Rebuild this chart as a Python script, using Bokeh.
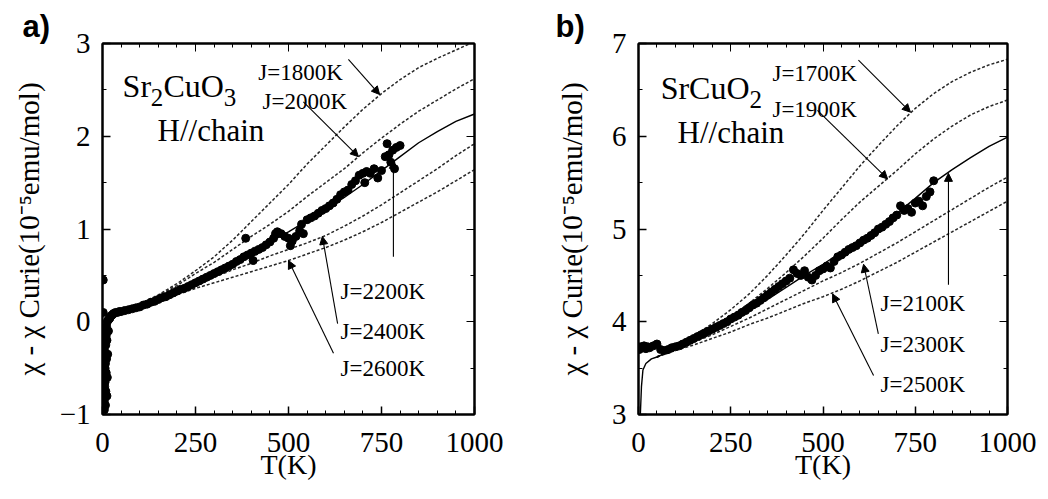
from bokeh.plotting import figure
from bokeh.layouts import row
from bokeh.models import (Range1d, LinearAxis, Arrow, NormalHead, Label,
                          CustomJSTickFormatter, FixedTicker)
from bokeh.embed import file_html
from bokeh.resources import INLINE

# ---------------- data ----------------
T_CURVE = [50, 100, 150, 200, 250, 300, 350, 400, 450, 500,
           550, 600, 650, 700, 750, 800, 850, 900, 950, 1000]

# panel a) Sr2CuO3
A_J1800 = [0.10, 0.19, 0.29, 0.41, 0.55, 0.70, 0.88, 1.08, 1.28, 1.48,
           1.70, 1.90, 2.10, 2.29, 2.46, 2.61, 2.74, 2.84, 2.93, 3.02]
A_J2000 = [0.10, 0.18, 0.28, 0.39, 0.52, 0.64, 0.78, 0.92, 1.05, 1.19,
           1.35, 1.50, 1.65, 1.82, 1.98, 2.13, 2.27, 2.39, 2.51, 2.62]
A_J2200 = [0.10, 0.17, 0.26, 0.35, 0.45, 0.55, 0.65, 0.75, 0.86, 0.97,
           1.09, 1.21, 1.34, 1.48, 1.63, 1.78, 1.93, 2.05, 2.16, 2.24]
A_J2400 = [0.10, 0.17, 0.24, 0.32, 0.40, 0.48, 0.56, 0.63, 0.71, 0.78,
           0.85, 0.93, 1.03, 1.14, 1.26, 1.39, 1.52, 1.65, 1.79, 1.92]
A_J2600 = [0.10, 0.16, 0.22, 0.29, 0.36, 0.42, 0.48, 0.54, 0.60, 0.66,
           0.73, 0.80, 0.88, 0.97, 1.07, 1.18, 1.29, 1.40, 1.52, 1.64]

A_DATA_T = [2, 2, 4, 4, 5, 5, 5, 6, 6, 6, 7, 7, 7, 8, 8, 8, 9, 9, 10, 10,
            11, 11, 12, 12, 13, 13, 14, 15, 16, 18, 20, 22, 25, 28, 30, 35,
            40, 45, 50, 60, 70, 80, 90, 100, 110, 120, 130, 140, 150, 160,
            170, 180, 190, 200, 210, 220, 230, 240, 250, 260, 270, 280, 290, 300,
            310, 320, 330, 340, 350, 360, 370, 380, 385, 390, 400, 405, 410, 420,
            430, 440, 450, 460, 465, 470, 480, 490, 500, 505, 510, 520, 530, 535,
            540, 550, 560, 570, 580, 590, 600, 610, 620, 630, 640, 650, 660, 670,
            680, 690, 700, 705, 710, 720, 730, 740, 750, 760, 765, 770, 775, 780,
            785, 790, 800]
A_DATA_Y = [0.45, 0.10, -0.93, -0.60, -0.95, -0.85, -0.30, -0.80, -0.70, -0.20,
            -0.65, -0.50, -0.10, -0.45, -0.35, -0.90, -0.25, -0.75, -0.15, -0.55,
            -0.05, -0.40, -0.80, -0.20, -0.60, 0.00, -0.35, 0.02, -0.10, 0.03,
            0.04, 0.06, 0.07, 0.08, 0.09, 0.10, 0.10, 0.11, 0.11, 0.12, 0.13,
            0.14, 0.15, 0.16, 0.18, 0.19, 0.21, 0.22, 0.24, 0.26, 0.27, 0.29,
            0.31, 0.33, 0.35, 0.36, 0.38, 0.40, 0.42, 0.44, 0.46, 0.48, 0.50,
            0.52, 0.54, 0.56, 0.58, 0.60, 0.62, 0.65, 0.67, 0.70, 0.90, 0.72,
            0.74, 0.66, 0.76, 0.78, 0.80, 0.83, 0.86, 0.90, 0.95, 0.97, 0.95,
            0.92, 0.90, 0.82, 0.87, 0.92, 0.98, 1.05, 0.95, 1.10, 1.12, 1.14,
            1.17, 1.20, 1.22, 1.25, 1.28, 1.32, 1.37, 1.40, 1.42, 1.48, 1.52,
            1.58, 1.60, 1.50, 1.62, 1.60, 1.65, 1.55, 1.63, 1.78, 1.92, 1.80,
            1.72, 1.85, 1.65, 1.88, 1.90]

# panel b) SrCuO2
B_J1700 = [3.62, 3.73, 3.85, 3.98, 4.13, 4.30, 4.50, 4.72, 4.95, 5.20,
           5.44, 5.68, 5.90, 6.11, 6.30, 6.46, 6.59, 6.69, 6.77, 6.83]
B_J1900 = [3.62, 3.72, 3.83, 3.94, 4.06, 4.20, 4.36, 4.53, 4.71, 4.90,
           5.10, 5.29, 5.46, 5.63, 5.81, 5.97, 6.11, 6.23, 6.32, 6.39]
B_J2100_T = [5, 8, 12, 20, 35] + T_CURVE
B_J2100 = [3.00, 3.30, 3.48, 3.55, 3.60,
           3.62, 3.71, 3.80, 3.90, 4.01, 4.12, 4.24, 4.37, 4.50, 4.62,
           4.75, 4.88, 5.02, 5.17, 5.33, 5.50, 5.64, 5.77, 5.89, 5.99]
B_J2300 = [3.62, 3.70, 3.78, 3.86, 3.95, 4.04, 4.14, 4.24, 4.34, 4.44,
           4.53, 4.63, 4.74, 4.85, 4.97, 5.09, 5.21, 5.33, 5.45, 5.56]
B_J2500 = [3.62, 3.69, 3.75, 3.82, 3.89, 3.97, 4.04, 4.12, 4.20, 4.27,
           4.35, 4.44, 4.54, 4.64, 4.75, 4.86, 4.97, 5.08, 5.19, 5.30]

B_DATA_T = [2, 5, 10, 15, 20, 25, 30, 40, 50, 60, 70, 80, 90, 100, 110, 120,
            130, 140, 150, 160, 170, 180, 190, 200, 210, 220, 230, 240, 250, 260,
            270, 280, 290, 300, 310, 320, 330, 340, 350, 360, 370, 380, 390, 400,
            410, 420, 430, 440, 450, 460, 470, 480, 490, 500, 510, 520, 530, 540,
            550, 560, 570, 580, 590, 600, 610, 620, 630, 640, 650, 660, 670, 680,
            690, 700, 710, 720, 730, 740, 750, 760, 770, 780, 790, 800]
B_DATA_Y = [3.70, 3.73, 3.72, 3.74, 3.71, 3.73, 3.72, 3.74, 3.76, 3.70, 3.69,
            3.70, 3.72, 3.73, 3.74, 3.76, 3.78, 3.80, 3.82, 3.84, 3.86, 3.88,
            3.90, 3.92, 3.94, 3.96, 3.98, 4.00, 4.03, 4.05, 4.07, 4.10, 4.12,
            4.15, 4.18, 4.20, 4.23, 4.26, 4.29, 4.32, 4.35, 4.38, 4.41, 4.44,
            4.47, 4.56, 4.52, 4.50, 4.55, 4.48, 4.45, 4.50, 4.55, 4.57, 4.60,
            4.58, 4.65, 4.70, 4.72, 4.75, 4.78, 4.80, 4.82, 4.85, 4.88, 4.90,
            4.93, 4.96, 5.00, 5.02, 5.05, 5.08, 5.12, 5.15, 5.25, 5.20, 5.22,
            5.18, 5.28, 5.30, 5.25, 5.35, 5.40, 5.52]

X_TICKS = [0, 250, 500, 750, 1000]
A_Y_TICKS = [-1, 0, 1, 2, 3]
B_Y_TICKS = [3, 4, 5, 6, 7]

A_LABELS = ["J=1800K", "J=2000K", "J=2200K", "J=2400K", "J=2600K"]
B_LABELS = ["J=1700K", "J=1900K", "J=2100K", "J=2300K", "J=2500K"]

SERIF = "Liberation Serif"
Y_TITLE = "\u03c7 - \u03c7 Curie(10\u207b\u2075emu/mol)"


def blank():
    return CustomJSTickFormatter(code="return ''")


def make_panel(y0, y1, yticks, w, borders, tag, tag_offset):
    bl, br, bt, bb = borders
    p = figure(width=w, height=498, x_range=Range1d(0, 1000),
               y_range=Range1d(y0, y1), output_backend="svg",
               toolbar_location=None, min_border_left=bl,
               min_border_right=br, min_border_top=bt, min_border_bottom=bb,
               title=tag)
    p.title.text_font = "Liberation Sans"
    p.title.text_font_size = "31px"
    p.title.text_font_style = "bold"
    p.title.text_color = "black"
    p.title.align = "left"
    p.title.offset = tag_offset
    p.title.standoff = 0
    p.background_fill_color = "white"
    p.border_fill_color = "white"
    p.outline_line_color = "black"
    p.outline_line_width = 2
    p.xgrid.visible = False
    p.ygrid.visible = False
    xt = FixedTicker(ticks=X_TICKS, minor_ticks=list(range(0, 1001, 50)))
    ym = [y0 + 0.5 * i for i in range(int((y1 - y0) * 2) + 1)]
    yt = FixedTicker(ticks=yticks, minor_ticks=ym)
    left = p.yaxis[0]
    bottom = p.xaxis[0]
    bottom.ticker = xt
    left.ticker = yt
    for ax in (bottom, left):
        ax.axis_line_width = 2
        ax.major_tick_in = 8
        ax.major_tick_out = 0
        ax.minor_tick_in = 4
        ax.minor_tick_out = 0
        ax.major_tick_line_width = 1.5
        ax.major_label_text_font = SERIF
        ax.major_label_text_font_size = "29px"
        ax.major_label_text_color = "black"
        ax.axis_label_text_font = SERIF
        ax.axis_label_text_font_style = "normal"
        ax.axis_label_text_color = "black"
    bottom.axis_label = "T(K)"
    bottom.axis_label_text_font_size = "28px"
    bottom.major_label_standoff = 18
    bottom.axis_label_standoff = -6
    left.axis_label = Y_TITLE
    left.axis_label_text_font_size = "29px"
    left.major_label_standoff = 12
    top = LinearAxis(ticker=xt, formatter=blank(), major_tick_in=8,
                     major_tick_out=0, minor_tick_in=4, minor_tick_out=0,
                     axis_line_width=2, major_label_standoff=0)
    right = LinearAxis(ticker=yt, formatter=blank(), major_tick_in=8,
                       major_tick_out=0, minor_tick_in=4, minor_tick_out=0,
                       axis_line_width=2, major_label_standoff=0)
    p.add_layout(top, "above")
    p.add_layout(right, "right")
    return p, left


def dotted(p, x, y):
    p.line(x, y, line_color="#262626", line_width=1.5, line_dash="3 2")


def add_arrows(p, arrows):
    for (xs, ys, xe, ye) in arrows:
        p.add_layout(Arrow(end=NormalHead(size=8, fill_color="black",
                                          line_color="black", line_width=1),
                           x_start=xs, y_start=ys, x_end=xe, y_end=ye,
                           line_color="black", line_width=1.1))


def add_text(p, txt, x, y, size, font=SERIF, style="normal"):
    p.add_layout(Label(x=x, y=y, text=txt, text_font=font,
                       text_font_size=size, text_font_style=style,
                       text_color="black", text_baseline="alphabetic",
                       text_align="left"))


# ---------------- panel a ----------------
pa, pa_left = make_panel(-1, 3, A_Y_TICKS, 528, (102, 54, 43, 82), "a)", -80)
pa_left.axis_label_standoff = 12
for ys in (A_J1800, A_J2000, A_J2400, A_J2600):
    dotted(pa, T_CURVE, ys)
pa.line(T_CURVE, A_J2200, line_color="black", line_width=1.4)
pa.scatter(A_DATA_T, A_DATA_Y, size=8, marker="circle", color="black")

add_text(pa, "Sr", 54, 2.54, "32px")
add_text(pa, "2", 130, 2.42, "25px")
add_text(pa, "CuO", 164, 2.54, "32px")
add_text(pa, "3", 326, 2.42, "25px")
add_text(pa, "H//chain", 148, 2.06, "31px")
for txt, (x, y) in zip(A_LABELS, [(419, 2.69), (430, 2.37), (640, 0.33),
                                  (640, -0.10), (640, -0.50)]):
    add_text(pa, txt, x, y, "23px")
add_arrows(pa, [(661, 2.83, 745, 2.45), (540, 2.37, 688, 1.78),
                (782, 0.70, 782, 1.74), (632, -0.02, 591, 0.92),
                (621, -0.34, 500, 0.66)])

# ---------------- panel b ----------------
pb, pb_left = make_panel(3, 7, B_Y_TICKS, 512, (110, 33, 41, 84), "b)", -83)
pb_left.axis_label_standoff = 21
for ys in (B_J1700, B_J1900, B_J2300, B_J2500):
    dotted(pb, T_CURVE, ys)
pb.line(B_J2100_T, B_J2100, line_color="black", line_width=1.4)
pb.scatter(B_DATA_T, B_DATA_Y, size=8, marker="circle", color="black")

add_text(pb, "SrCuO", 60, 6.52, "32px")
add_text(pb, "2", 301, 6.40, "25px")
add_text(pb, "H//chain", 106, 6.04, "31px")
for txt, (x, y) in zip(B_LABELS, [(363, 6.68), (363, 6.29), (656, 4.20),
                                  (656, 3.75), (656, 3.32)]):
    add_text(pb, txt, x, y, "23px")
add_arrows(pb, [(596, 6.82, 737, 6.26), (485, 6.28, 675, 5.54),
                (840, 4.40, 840, 5.60), (650, 3.87, 610, 4.62),
                (637, 3.42, 526, 4.30)])

layout = row(pa, pb)
open("out.html", "w").write(file_html(layout, INLINE))
